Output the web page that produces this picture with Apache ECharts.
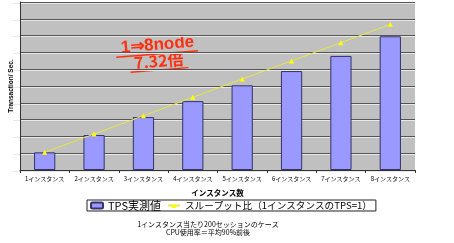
<!DOCTYPE html>
<html><head><meta charset="utf-8">
<script src="https://cdn.jsdelivr.net/npm/echarts@6/dist/echarts.min.js"></script>
<style>html,body{margin:0;padding:0;background:#fff}#c{width:454px;height:243px}</style>
</head><body><div id="c"></div>
<script>
var categories = ['1インスタンス','2インスタンス','3インスタンス','4インスタンス','5インスタンス','6インスタンス','7インスタンス','8インスタンス'];
var tpsValues = [1.05, 2.08, 3.15, 4.10, 5.04, 5.89, 6.79, 7.96];
var ratioValues = [1.05, 2.14, 3.23, 4.33, 5.42, 6.49, 7.58, 8.67];
var yMax = 10, yInterval = 1;
var FONT = '"Noto Sans CJK JP", "Liberation Sans", sans-serif';

var chart = echarts.init(document.getElementById('c'), null, {renderer:'canvas'});
chart.setOption({
  animation:false,
  textStyle:{fontFamily:FONT},
  grid:[
    {left:13, right:39, top:2, bottom:73, show:true, backgroundColor:'#c0c0c0', borderWidth:0},
    {left:13, right:39, top:3, bottom:72, show:false}
  ],
  xAxis:[
    {type:'category', gridIndex:0, data:categories, z:3,
     axisLine:{lineStyle:{color:'#333', width:1}},
     axisTick:{show:true, length:3, lineStyle:{color:'#333'}},
     axisLabel:{interval:0, fontSize:6, color:'#000', margin:6, fontFamily:FONT},
     name:'インスタンス数', nameLocation:'middle', nameGap:19,
     nameTextStyle:{fontSize:7.5, fontWeight:'bold', color:'#000', fontFamily:FONT}},
    {type:'category', gridIndex:1, data:categories, show:false}
  ],
  yAxis:[
    {type:'value', gridIndex:0, min:0, max:yMax, interval:yInterval, z:2,
     axisLine:{show:true, lineStyle:{color:'#333'}},
     axisTick:{show:false}, axisLabel:{show:false},
     splitLine:{show:true, lineStyle:{color:'#555', width:1}},
     name:'Transaction/ Sec.', nameLocation:'middle', nameGap:5, nameRotate:90,
     nameTextStyle:{fontSize:6.5, color:'#000', fontWeight:'bold', fontFamily:'"Liberation Sans", sans-serif'}},
    {type:'value', gridIndex:1, min:0, max:yMax, interval:yInterval, z:1,
     axisLine:{show:false}, axisTick:{show:false}, axisLabel:{show:false},
     splitLine:{show:true, lineStyle:{color:'#e8e8e8', width:1}}}
  ],
  legend:{
    left:87, top:200, orient:'horizontal',
    borderColor:'#222', borderWidth:1, padding:[0,4,0,3], itemGap:6,
    itemWidth:12, itemHeight:6,
    textStyle:{fontSize:10, color:'#000', fontFamily:FONT, padding:[1,0,0,0]},
    data:[
      {name:'TPS実測値', textStyle:{fontSize:11}},
      {name:'スループット比（1インスタンスのTPS=1）', itemStyle:{color:'#ffff00'}, textStyle:{fontSize:9.6}}
    ]
  },
  series:[
    {name:'TPS実測値', type:'bar', xAxisIndex:0, yAxisIndex:0, data:tpsValues, z:4,
     barWidth:'43%', itemStyle:{color:'#9999ff', borderColor:'#333366', borderWidth:1}},
    {name:'スループット比（1インスタンスのTPS=1）', type:'line', xAxisIndex:0, yAxisIndex:0, data:ratioValues, z:5,
     symbol:'triangle', symbolSize:5, lineStyle:{color:'#e8e840', width:1},
     itemStyle:{color:'#ffff00'}}
  ],
  graphic:[
    {type:'group', x:158, y:52, rotation:0.08, z:10, children:[
      {type:'text', x:0, y:-7, style:{text:'1⇒8node', fill:'#ff3010', font:'bold 17px "Liberation Sans", sans-serif', textAlign:'center', textVerticalAlign:'middle'}},
      {type:'line', shape:{x1:-42, y1:2, x2:40, y2:2}, style:{stroke:'#ff3010', lineWidth:1.5}},
      {type:'text', x:0, y:9, style:{text:'7.32倍', fill:'#ff3010', font:'bold 16px "Noto Sans CJK JP", sans-serif', textAlign:'center', textVerticalAlign:'middle'}},
      {type:'line', shape:{x1:-29, y1:18, x2:29, y2:18}, style:{stroke:'#ff3010', lineWidth:1.5}}
    ]},
    {type:'text', x:208, y:221, style:{text:'1インスタンス当たり200セッションのケース\nCPU使用率＝平均90%前後', fill:'#000', font:'7px "Noto Sans CJK JP", sans-serif', textAlign:'center', lineHeight:7.5}}
  ]
});
</script></body></html>
